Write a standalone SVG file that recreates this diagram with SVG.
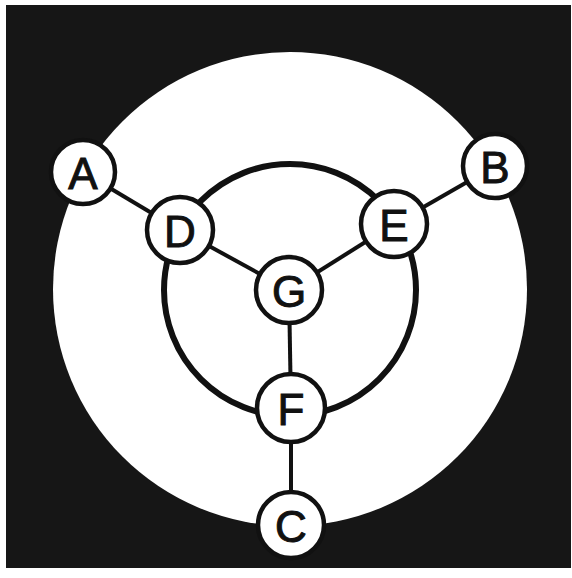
<svg xmlns="http://www.w3.org/2000/svg" width="572" height="578" viewBox="0 0 572 578">
<style>
.node circle{fill:#fff;stroke:#111;stroke-width:4.5}
.node text{font-family:"Liberation Sans","DejaVu Sans",sans-serif;font-size:44px;fill:#111;stroke:#111;stroke-width:1;text-anchor:middle;dominant-baseline:central}
.edge{stroke:#111;stroke-width:4;fill:none}
.ring{stroke:#111;stroke-width:6;fill:none}
</style>
<rect x="0" y="0" width="572" height="578" fill="#fff"/>
<rect x="6" y="5" width="565" height="563" fill="#161616"/>
<circle cx="290" cy="289" r="237" fill="#fff"/>
<g id="connectors">
<circle class="ring" cx="290" cy="290" r="126"/>
<line class="edge" x1="83" y1="172" x2="180" y2="230"/>
<line class="edge" x1="180" y1="230" x2="289" y2="290"/>
<line class="edge" x1="394" y1="224" x2="289" y2="290"/>
<line class="edge" x1="495" y1="166" x2="394" y2="224"/>
<line class="edge" x1="289" y1="290" x2="291" y2="408"/>
<line class="edge" x1="291" y1="408" x2="291" y2="525"/>
</g>
<g id="A" class="node"><circle cx="83" cy="172" r="32"/><text x="83" y="173">A</text></g>
<g id="B" class="node"><circle cx="495" cy="166" r="32"/><text x="495" y="167">B</text></g>
<g id="D" class="node"><circle cx="180" cy="230" r="33"/><text x="180" y="231">D</text></g>
<g id="E" class="node"><circle cx="394" cy="224" r="33"/><text x="394" y="225">E</text></g>
<g id="G" class="node"><circle cx="289" cy="290" r="33"/><text x="289" y="291">G</text></g>
<g id="F" class="node"><circle cx="291" cy="408" r="34"/><text x="291" y="409">F</text></g>
<g id="C" class="node"><circle cx="291" cy="525" r="33"/><text x="291" y="526">C</text></g>
</svg>
